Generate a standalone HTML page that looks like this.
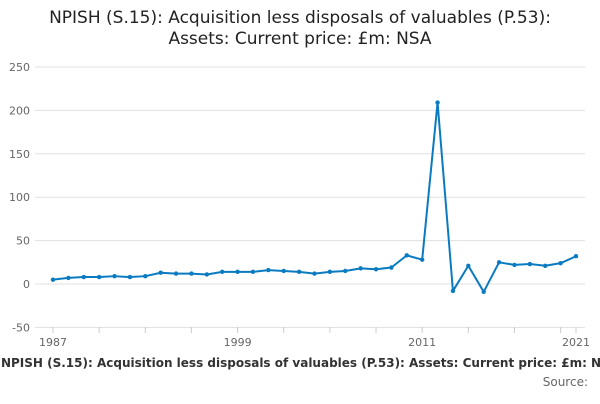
<!DOCTYPE html>
<html><head><meta charset="utf-8"><style>
body{margin:0;width:600px;height:400px;background:#fff;overflow:hidden;font-family:"DejaVu Sans","Liberation Sans",sans-serif}
</style></head><body>
<svg width="600" height="400">
<text x="300" y="23" text-anchor="middle" font-size="17" fill="#222">NPISH (S.15): Acquisition less disposals of valuables (P.53):</text>
<text x="300" y="44" text-anchor="middle" font-size="17" fill="#222">Assets: Current price: £m: NSA</text>
<g id="grid"></g><g id="xaxis"></g><g id="series"></g>
<text x="310" y="367" text-anchor="middle" font-size="12" font-weight="bold" fill="#333">NPISH (S.15): Acquisition less disposals of valuables (P.53): Assets: Current price: £m: NSA</text>
<text x="588" y="386" text-anchor="end" font-size="12" fill="#666">Source:</text>
</svg>
<script>
const years=[1987,1988,1989,1990,1991,1992,1993,1994,1995,1996,1997,1998,1999,2000,2001,2002,2003,2004,2005,2006,2007,2008,2009,2010,2011,2012,2013,2014,2015,2016,2017,2018,2019,2020,2021];
const values=[5,7,8,8,9,8,9,13,12,12,11,14,14,14,16,15,14,12,14,15,18,17,19,33,28,209,-8,21,-9,25,22,23,21,24,32];
const yTicks=[-50,0,50,100,150,200,250];
const xLabels=[1987,1999,2011,2021];
const NS="http://www.w3.org/2000/svg";
const x=v=>53+(v-1987)*(576-53)/(2021-1987);
const y=v=>284-v*(284-67)/250;
function mk(t,a,p){const e=document.createElementNS(NS,t);for(const k in a)e.setAttribute(k,a[k]);p.appendChild(e);return e;}
const g=document.getElementById('grid');
yTicks.forEach(t=>{
 const l=mk('line',{x1:35,x2:585,y1:y(t),y2:y(t),stroke:'#e0e0e0','stroke-width':1},g);
 
 
 const tx=mk('text',{x:30,y:y(t)+4,'text-anchor':'end','font-size':11,fill:'#666'},g);
 tx.textContent=t;
 
 
});
const xa=document.getElementById('xaxis');
for(let yr=1987;yr<=2021;yr+=3){
 const tk=mk('line',{x1:x(yr),x2:x(yr),y1:327,y2:333,stroke:'#ccc'},xa);
 
 
}
const last=mk('line',{x1:x(2021),x2:x(2021),y1:327,y2:333,stroke:'#ccc'},xa);


xLabels.forEach(v=>{
 const tx=mk('text',{x:x(v),y:346,'text-anchor':'middle','font-size':11,fill:'#666'},xa);
 tx.textContent=v;
 
 
});
const s=document.getElementById('series');
const pl=mk('polyline',{points:years.map((yr,i)=>x(yr)+','+y(values[i])).join(' '),fill:'none',stroke:'#0a7bc1','stroke-width':2,'stroke-linejoin':'round'},s);


years.forEach((yr,i)=>{
 const c=mk('circle',{cx:x(yr),cy:y(values[i]),r:2.2,fill:'#0a7bc1'},s);
 
 
});
</script>
</body></html>
